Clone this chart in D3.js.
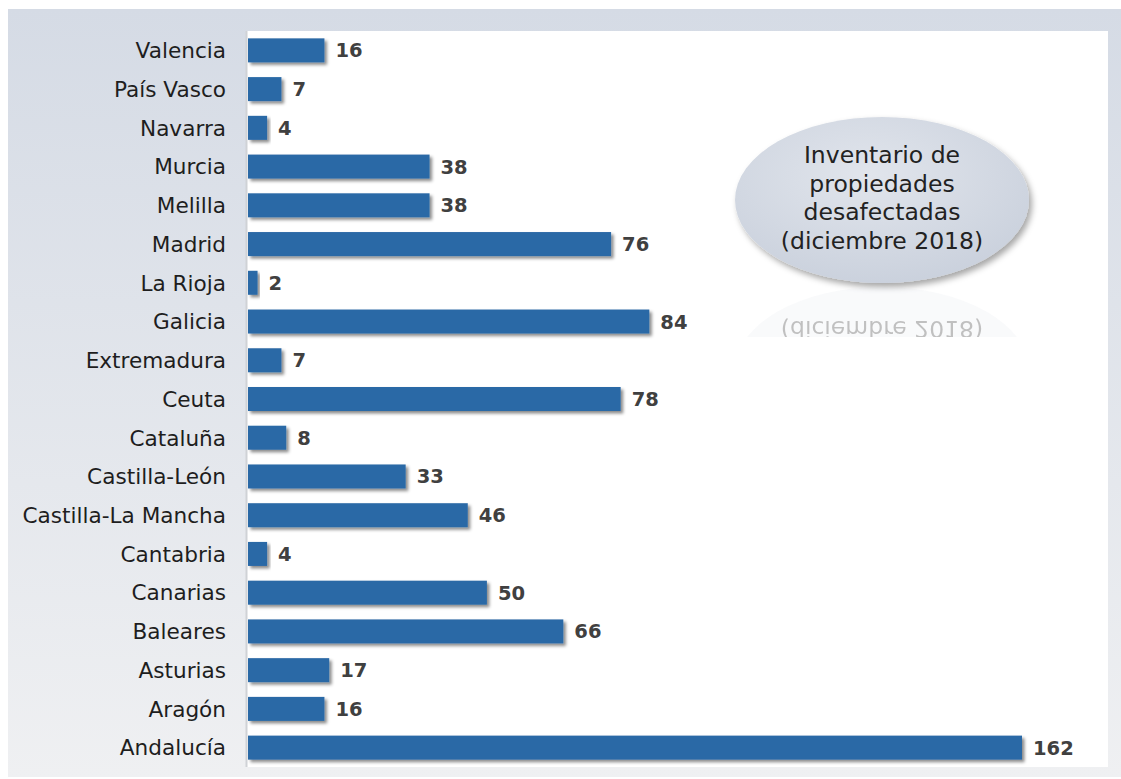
<!DOCTYPE html>
<html><head><meta charset="utf-8">
<script src="https://cdn.jsdelivr.net/npm/d3@7"></script>
<style>body{margin:0;background:#fff;}svg{display:block;}</style>
</head><body>
<script>
const categories = ["Valencia","País Vasco","Navarra","Murcia","Melilla","Madrid","La Rioja","Galicia","Extremadura","Ceuta","Cataluña","Castilla-León","Castilla-La Mancha","Cantabria","Canarias","Baleares","Asturias","Aragón","Andalucía"];
const values = [16,7,4,38,38,76,2,84,7,78,8,33,46,4,50,66,17,16,162];
const titleLines = ["Inventario de","propiedades","desafectadas","(diciembre 2018)"];

const W = 1121, H = 779;
const svg = d3.select("body").append("svg").attr("width", W).attr("height", H);
const defs = svg.append("defs");

const bg = defs.append("linearGradient").attr("id","bg").attr("x1",0).attr("y1",0).attr("x2",0).attr("y2",1);
bg.append("stop").attr("offset","0%").attr("stop-color","#d5dbe5");
bg.append("stop").attr("offset","100%").attr("stop-color","#eff0f2");

const sh = defs.append("filter").attr("id","sh").attr("x","-10%").attr("y","-30%").attr("width","130%").attr("height","180%");
sh.append("feDropShadow").attr("dx",2.5).attr("dy",2.5).attr("stdDeviation",1.6).attr("flood-color","#000").attr("flood-opacity",0.45);

const esh = defs.append("filter").attr("id","esh").attr("x","-20%").attr("y","-20%").attr("width","140%").attr("height","150%");
esh.append("feDropShadow").attr("dx",3).attr("dy",4).attr("stdDeviation",3).attr("flood-color","#000").attr("flood-opacity",0.35);

const eg = defs.append("radialGradient").attr("id","eg").attr("cx","45%").attr("cy","35%").attr("r","70%");
eg.append("stop").attr("offset","0%").attr("stop-color","#e1e5ec");
eg.append("stop").attr("offset","100%").attr("stop-color","#c9d0dc");

defs.append("clipPath").attr("id","rclip").append("rect")
  .attr("x",700).attr("y",286).attr("width",400).attr("height",51);

// outer panel
svg.append("rect").attr("x",8).attr("y",9).attr("width",W-8).attr("height",768).attr("fill","url(#bg)");
// plot area
const x0 = 248, x1 = 1108, y0 = 31, y1 = 767;
svg.append("rect").attr("x",x0-1).attr("y",y0).attr("width",x1-x0+1).attr("height",y1-y0).attr("fill","#fff");

const x = d3.scaleLinear().domain([0,162]).range([x0, 1022]);
const y = d3.scaleBand().domain(categories).range([y0, y1]).paddingInner(0.38).paddingOuter(0.19);

// axis line
svg.append("line").attr("x1",x0-1.5).attr("x2",x0-1.5).attr("y1",y0).attr("y2",y1).attr("stroke","#cfd2d6").attr("stroke-width",2);

const font = "Verdana, 'DejaVu Sans', sans-serif";

// bars
svg.append("g").selectAll("rect").data(categories).join("rect")
  .attr("x", x(0)).attr("y", d => y(d)).attr("width", (d,i) => x(values[i]) - x(0))
  .attr("height", y.bandwidth()).attr("fill","#2b69a6").attr("filter","url(#sh)");

// value labels
svg.append("g").selectAll("text").data(categories).join("text")
  .attr("x", (d,i) => x(values[i]) + 11).attr("y", d => y(d) + y.bandwidth()/2)
  .attr("dy","0.36em").attr("font-family",font).attr("font-weight","bold").attr("font-size",19.5)
  .attr("fill","#404040").text((d,i) => values[i]);

// category axis
const ax = svg.append("g").attr("transform",`translate(${x0-1},0)`)
  .call(d3.axisLeft(y).tickSize(0).tickPadding(21));
ax.select(".domain").remove();
ax.selectAll("text").attr("font-family",font).attr("font-size",21.6).attr("fill","#1e1e1e").attr("dy","0.36em");

// ellipse with title
const cx = 882, cy = 200, rx = 147, ry = 83;
svg.append("ellipse").attr("cx",cx).attr("cy",cy).attr("rx",rx).attr("ry",ry).attr("fill","url(#eg)").attr("filter","url(#esh)");
const tg = svg.append("g");
tg.selectAll("text").data(titleLines).join("text")
  .attr("x",cx).attr("y",(d,i) => 163 + i*28.6)
  .attr("text-anchor","middle").attr("font-family",font).attr("font-size",23.5).attr("fill","#222")
  .text(d => d);

// reflection
const refl = svg.append("g").attr("clip-path","url(#rclip)").attr("opacity",0.28)
  .append("g").attr("transform",`translate(0,${2*285}) scale(1,-1)`);
refl.append("ellipse").attr("cx",cx).attr("cy",cy).attr("rx",rx).attr("ry",ry).attr("fill","#c9d0dc").attr("opacity",0.4);
refl.selectAll("text").data(titleLines).join("text")
  .attr("x",cx).attr("y",(d,i) => 163 + i*28.6)
  .attr("text-anchor","middle").attr("font-family",font).attr("font-size",23.5).attr("fill","#222")
  .text(d => d);
</script>
</body></html>
